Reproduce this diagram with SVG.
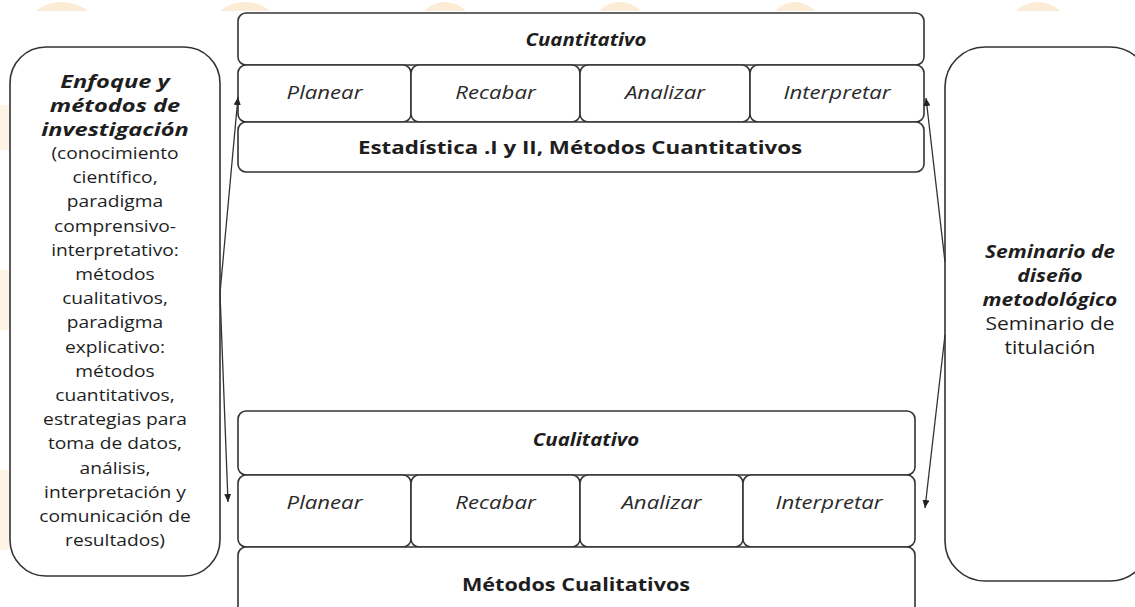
<svg xmlns="http://www.w3.org/2000/svg" width="1135" height="607" viewBox="0 0 1135 607">
<style>
.box{fill:#fff;stroke:#333;stroke-width:1.6}
.t{font-family:"Open Sans","Noto Sans",sans-serif;fill:#1e1e1e;text-anchor:middle}
.bi{font-weight:700;font-style:italic}
.b{font-weight:700}
.i{font-style:italic;fill:#2a2a2a}
.wm{fill:#fcecd6}
.con{fill:none;stroke:#333;stroke-width:1.3}
</style>
<defs>
<marker id="ah" markerUnits="userSpaceOnUse" markerWidth="8" markerHeight="7" refX="8" refY="3.5" orient="auto">
<path d="M0,0 L8,3.5 L0,7 z" fill="#222"/>
</marker>
<clipPath id="topclip"><rect x="0" y="0" width="1135" height="11"/></clipPath>
</defs>
<rect width="1135" height="607" fill="#fff"/>
<g id="watermark" clip-path="url(#topclip)">
<ellipse class="wm" cx="62" cy="38" rx="40" ry="36"/>
<ellipse class="wm" cx="245" cy="38" rx="38" ry="36"/>
<ellipse class="wm" cx="445" cy="38" rx="32" ry="36"/>
<ellipse class="wm" cx="620" cy="38" rx="32" ry="36"/>
<ellipse class="wm" cx="795" cy="38" rx="30" ry="36"/>
<ellipse class="wm" cx="1038" cy="38" rx="34" ry="36"/>
</g>
<g id="wm-left">
<rect class="wm" x="0" y="105" width="9" height="45" opacity="0.6"/>
<rect class="wm" x="0" y="270" width="9" height="60" opacity="0.6"/>
<rect class="wm" x="0" y="470" width="9" height="80" opacity="0.6"/>
</g>

<g id="enfoque">
<rect class="box" x="10" y="47" width="210" height="529" rx="36"/>
<g transform="translate(115 0) scale(1.35 1)">
<text class="t bi" font-size="17.5" x="0" y="88">Enfoque y</text>
<text class="t bi" font-size="17.5" x="0" y="112">métodos de</text>
<text class="t bi" font-size="17.5" x="0" y="136">investigación</text>
</g>
<g transform="translate(115 0) scale(1.2 1)">
<text class="t" font-size="16" x="0" y="159">(conocimiento</text>
<text class="t" font-size="16" x="0" y="183">científico,</text>
<text class="t" font-size="16" x="0" y="207">paradigma</text>
<text class="t" font-size="16" x="0" y="232">comprensivo-</text>
<text class="t" font-size="16" x="0" y="256">interpretativo:</text>
<text class="t" font-size="16" x="0" y="280">métodos</text>
<text class="t" font-size="16" x="0" y="304">cualitativos,</text>
<text class="t" font-size="16" x="0" y="328">paradigma</text>
<text class="t" font-size="16" x="0" y="353">explicativo:</text>
<text class="t" font-size="16" x="0" y="377">métodos</text>
<text class="t" font-size="16" x="0" y="401">cuantitativos,</text>
<text class="t" font-size="16" x="0" y="425">estrategias para</text>
<text class="t" font-size="16" x="0" y="449">toma de datos,</text>
<text class="t" font-size="16" x="0" y="474">análisis,</text>
<text class="t" font-size="16" x="0" y="498">interpretación y</text>
<text class="t" font-size="16" x="0" y="522">comunicación de</text>
<text class="t" font-size="16" x="0" y="546">resultados)</text>
</g>
</g>

<g id="cuantitativo">
<rect class="box" x="238" y="13" width="686" height="52" rx="8"/>
<g transform="translate(586 0) scale(1.2 1)"><text class="t bi" font-size="17" x="0" y="46">Cuantitativo</text></g>
</g>
<g id="cuant-planear">
<rect class="box" x="238" y="65" width="173" height="57" rx="8"/>
<g transform="translate(324.5 0) scale(1.2 1)"><text class="t i" font-size="18.5" x="0" y="99.5">Planear</text></g>
</g>
<g id="cuant-recabar">
<rect class="box" x="411" y="65" width="169" height="57" rx="8"/>
<g transform="translate(495.5 0) scale(1.2 1)"><text class="t i" font-size="18.5" x="0" y="99.5">Recabar</text></g>
</g>
<g id="cuant-analizar">
<rect class="box" x="580" y="65" width="170" height="57" rx="8"/>
<g transform="translate(665 0) scale(1.2 1)"><text class="t i" font-size="18.5" x="0" y="99.5">Analizar</text></g>
</g>
<g id="cuant-interpretar">
<rect class="box" x="750" y="65" width="174" height="57" rx="8"/>
<g transform="translate(837 0) scale(1.2 1)"><text class="t i" font-size="18.5" x="0" y="99.5">Interpretar</text></g>
</g>
<g id="estadistica">
<rect class="box" x="238" y="122" width="686" height="50" rx="8"/>
<g transform="translate(580 0) scale(1.2 1)"><text class="t b" font-size="18.6" x="0" y="154">Estadística .I y II, Métodos Cuantitativos</text></g>
</g>

<g id="cualitativo">
<rect class="box" x="238" y="411" width="677" height="64" rx="8"/>
<g transform="translate(586 0) scale(1.2 1)"><text class="t bi" font-size="17" x="0" y="446">Cualitativo</text></g>
</g>
<g id="cual-planear">
<rect class="box" x="238" y="475" width="173" height="72" rx="8"/>
<g transform="translate(324.5 0) scale(1.2 1)"><text class="t i" font-size="18.5" x="0" y="509.5">Planear</text></g>
</g>
<g id="cual-recabar">
<rect class="box" x="411" y="475" width="169" height="72" rx="8"/>
<g transform="translate(495.5 0) scale(1.2 1)"><text class="t i" font-size="18.5" x="0" y="509.5">Recabar</text></g>
</g>
<g id="cual-analizar">
<rect class="box" x="580" y="475" width="163" height="72" rx="8"/>
<g transform="translate(661.5 0) scale(1.2 1)"><text class="t i" font-size="18.5" x="0" y="509.5">Analizar</text></g>
</g>
<g id="cual-interpretar">
<rect class="box" x="743" y="475" width="172" height="72" rx="8"/>
<g transform="translate(829 0) scale(1.2 1)"><text class="t i" font-size="18.5" x="0" y="509.5">Interpretar</text></g>
</g>
<g id="metodos-cualitativos">
<rect class="box" x="238" y="547" width="677" height="80" rx="8"/>
<g transform="translate(576 0) scale(1.2 1)"><text class="t b" font-size="18" x="0" y="591">Métodos Cualitativos</text></g>
</g>

<g id="seminario">
<rect class="box" x="945" y="47" width="205" height="534" rx="40"/>
<g transform="translate(1050 0) scale(1.2 1)">
<text class="t bi" font-size="17.5" x="0" y="258">Seminario de</text>
<text class="t bi" font-size="17.5" x="0" y="282">diseño</text>
<text class="t bi" font-size="17.5" x="0" y="306">metodológico</text>
<text class="t" font-size="17.5" x="0" y="330">Seminario de</text>
<text class="t" font-size="17.5" x="0" y="354">titulación</text>
</g>
</g>

<g id="connectors">
<path class="con" d="M220,293 L238,97" marker-end="url(#ah)"/>
<path class="con" d="M220,293 L228,502" marker-end="url(#ah)"/>
<path class="con" d="M945,262 L926,98" marker-end="url(#ah)"/>
<path class="con" d="M945,335 L925,508" marker-end="url(#ah)"/>
</g>
</svg>
